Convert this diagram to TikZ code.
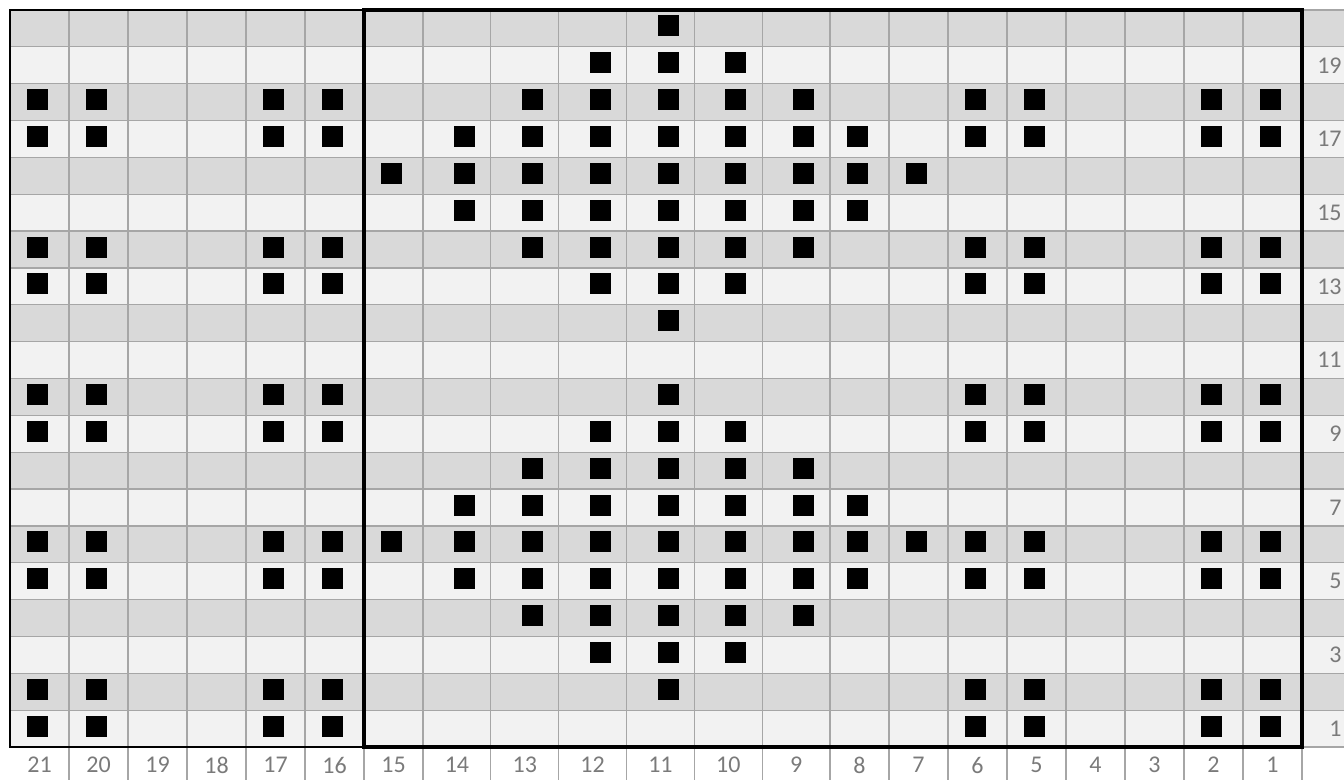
\documentclass[tikz,border=0pt]{standalone}
\usepackage{fontspec}
\setmainfont{Carlito}
\definecolor{rowA}{HTML}{D9D9D9}
\definecolor{rowB}{HTML}{F2F2F2}
\definecolor{gridc}{HTML}{A6A6A6}
\definecolor{labc}{HTML}{7A7A7A}
\pgfmathdeclarefunction{colL}{1}{\pgfmathparse{ifthenelse(#1<=7,10+59*#1,ifthenelse(#1<=13,423+67.8333*(#1-7),830+59*(#1-13)))}}
\pgfmathdeclarefunction{rowT}{1}{\pgfmathparse{10+36.85*(20-#1)}}
\newcommand\strow[2]{\foreach \c in {#2}{%
  \pgfmathsetmacro\sx{colL(21-\c)+ifthenelse(and(21-\c>=7,21-\c<=12),31,17)}%
  \pgfmathsetmacro\sy{rowT(#1)+5.5}%
  \fill[stitch] (\sx,\sy) rectangle ++(21,21);}}
\begin{document}
\begin{tikzpicture}[x=0.5pt,y=-0.5pt,
  stitch/.style={fill=black},
  gridline/.style={draw=gridc,line width=0.65pt},
  thinborder/.style={draw=black,line width=1.2pt},
  thickborder/.style={draw=black,line width=1.65pt},
  lab/.style={text=labc,font=\fontsize{12}{14}\selectfont,inner sep=0pt}]
\useasboundingbox (0,0) rectangle (1344,780);
% row backgrounds
\foreach \r in {1,...,20}{
  \pgfmathsetmacro\t{rowT(\r)}
  \ifodd\r
    \fill[rowB] (10,\t) rectangle (1344,\t+36.85);
  \else
    \fill[rowA] (10,\t) rectangle (1344,\t+36.85);
  \fi
}
% grid lines
\foreach \i in {1,...,21}{
  \pgfmathsetmacro\xx{colL(\i)}
  \draw[gridline] (\xx,10) -- (\xx,780);
}
\foreach \k in {0,...,20}{
  \draw[gridline] (10,10+36.85*\k) -- (1344,10+36.85*\k);
}
% stitches
\strow{20}{11}
\strow{19}{12,11,10}
\strow{18}{21,20,17,16,13,12,11,10,9,6,5,2,1}
\strow{17}{21,20,17,16,14,13,12,11,10,9,8,6,5,2,1}
\strow{16}{15,14,13,12,11,10,9,8,7}
\strow{15}{14,13,12,11,10,9,8}
\strow{14}{21,20,17,16,13,12,11,10,9,6,5,2,1}
\strow{13}{21,20,17,16,12,11,10,6,5,2,1}
\strow{12}{11}
\strow{10}{21,20,17,16,11,6,5,2,1}
\strow{9}{21,20,17,16,12,11,10,6,5,2,1}
\strow{8}{13,12,11,10,9}
\strow{7}{14,13,12,11,10,9,8}
\strow{6}{21,20,17,16,15,14,13,12,11,10,9,8,7,6,5,2,1}
\strow{5}{21,20,17,16,14,13,12,11,10,9,8,6,5,2,1}
\strow{4}{13,12,11,10,9}
\strow{3}{12,11,10}
\strow{2}{21,20,17,16,11,6,5,2,1}
\strow{1}{21,20,17,16,6,5,2,1}
% borders
\draw[thinborder] (10,10) rectangle (1302,747);
\draw[thickborder] (364,10) rectangle (1302,747);
% column numbers
\foreach \i in {0,...,20}{
  \pgfmathtruncatemacro\cn{21-\i}
  \pgfmathsetmacro\cx{(colL(\i)+colL(\i+1))/2}
  \node[lab] (col\cn) at (\cx,765) {\cn};
}
% row numbers
\foreach \r in {1,3,...,19}{
  \pgfmathsetmacro\ry{rowT(\r)+18.4}
  \node[lab,anchor=east] (row\r) at (1342,\ry) {\r};
}
\end{tikzpicture}
\end{document}
